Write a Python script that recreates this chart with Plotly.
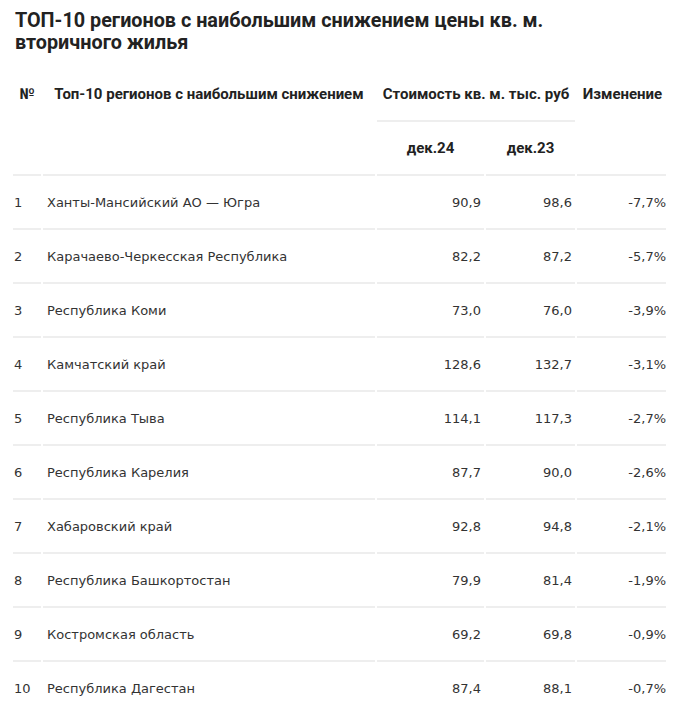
import plotly.graph_objects as go

title_lines = ["ТОП-10 регионов с наибольшим снижением цены кв. м.", "вторичного жилья"]
header_top = ["№", "Топ-10 регионов с наибольшим снижением", "Стоимость кв. м. тыс. руб", "Изменение"]
header_sub = ["дек.24", "дек.23"]

nums = [1, 2, 3, 4, 5, 6, 7, 8, 9, 10]
regions = [
    "Ханты-Мансийский АО — Югра",
    "Карачаево-Черкесская Республика",
    "Республика Коми",
    "Камчатский край",
    "Республика Тыва",
    "Республика Карелия",
    "Хабаровский край",
    "Республика Башкортостан",
    "Костромская область",
    "Республика Дагестан",
]
dec24 = [90.9, 82.2, 73.0, 128.6, 114.1, 87.7, 92.8, 79.9, 69.2, 87.4]
dec23 = [98.6, 87.2, 76.0, 132.7, 117.3, 90.0, 94.8, 81.4, 69.8, 88.1]
change = [-7.7, -5.7, -3.9, -3.1, -2.7, -2.6, -2.1, -1.9, -0.9, -0.7]


def fmt(v):
    return f"{v:.1f}".replace(".", ",")


W, H = 676, 720
# column spans (pixel layout)
cols = [(13, 41), (43, 375), (377, 484), (486, 575), (577, 666)]
row0, rowh = 202, 54
text_dy = 2
row_y = [row0 + rowh * i + text_dy for i in range(len(nums))]

BODY_FONT = dict(family="DejaVu Sans", size=13, color="#333333")
HEAD_FONT = dict(family="Roboto", size=15, color="#222222", weight="bold")

fig = go.Figure()

# body columns
fig.add_trace(go.Scatter(x=[14] * len(nums), y=row_y, text=[str(n) for n in nums],
                         mode="text", textposition="middle right", textfont=BODY_FONT,
                         hoverinfo="skip", cliponaxis=False))
fig.add_trace(go.Scatter(x=[47] * len(nums), y=row_y, text=regions,
                         mode="text", textposition="middle right", textfont=BODY_FONT,
                         hoverinfo="skip", cliponaxis=False))
fig.add_trace(go.Scatter(x=[481] * len(nums), y=row_y, text=[fmt(v) for v in dec24],
                         mode="text", textposition="middle left", textfont=BODY_FONT,
                         hoverinfo="skip", cliponaxis=False))
fig.add_trace(go.Scatter(x=[572] * len(nums), y=row_y, text=[fmt(v) for v in dec23],
                         mode="text", textposition="middle left", textfont=BODY_FONT,
                         hoverinfo="skip", cliponaxis=False))
fig.add_trace(go.Scatter(x=[666] * len(nums), y=row_y, text=[fmt(v) + "%" for v in change],
                         mode="text", textposition="middle left", textfont=BODY_FONT,
                         hoverinfo="skip", cliponaxis=False))

# header
hx = [(cols[0][0] + cols[0][1]) / 2, (cols[1][0] + cols[1][1]) / 2,
      (cols[2][0] + cols[3][1]) / 2, (cols[4][0] + cols[4][1]) / 2 + 1]
fig.add_trace(go.Scatter(x=hx, y=[95] * 4, text=header_top, mode="text",
                         textposition="middle center", textfont=HEAD_FONT,
                         hoverinfo="skip", cliponaxis=False))
fig.add_trace(go.Scatter(x=[(cols[2][0] + cols[2][1]) / 2, (cols[3][0] + cols[3][1]) / 2],
                         y=[149, 149], text=header_sub, mode="text",
                         textposition="middle center", textfont=HEAD_FONT,
                         hoverinfo="skip", cliponaxis=False))

shapes = []
line_style = dict(color="#dddddd", width=1)
# under "Стоимость" group header
shapes.append(dict(type="line", xref="x", yref="y", x0=cols[2][0], x1=cols[3][1],
                   y0=121, y1=121, line=line_style))
line_ys = [175] + [row0 + rowh * i + 27 for i in range(len(nums) - 1)]
for ly in line_ys:
    for c0, c1 in cols:
        shapes.append(dict(type="line", xref="x", yref="y", x0=c0, x1=c1,
                           y0=ly, y1=ly, line=line_style))

annotations = []
for i, t in enumerate(title_lines):
    annotations.append(dict(xref="x", yref="y", x=13, y=20 + 22 * i, text=t,
                            showarrow=False, xanchor="left", yanchor="middle",
                            font=dict(family="Roboto", size=19.8, color="#222222", weight="bold")))

fig.update_layout(
    width=W, height=H,
    margin=dict(l=0, r=0, t=0, b=0),
    paper_bgcolor="white", plot_bgcolor="white",
    showlegend=False,
    xaxis=dict(range=[0, W], visible=False, fixedrange=True),
    yaxis=dict(range=[H, 0], visible=False, fixedrange=True),
    shapes=shapes,
    annotations=annotations,
)

fig.write_html("out.html", config={"displayModeBar": False},
               post_script="document.body.style.margin='0';document.body.style.overflow='hidden';")
